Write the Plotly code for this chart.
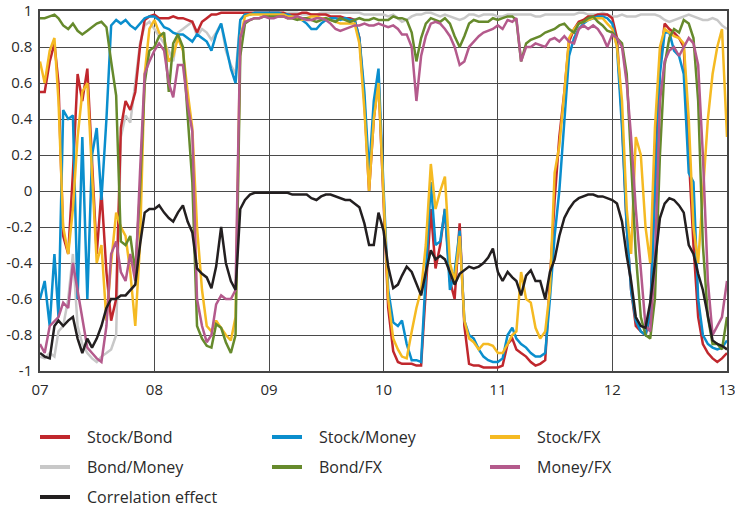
import datetime as dt
import plotly.graph_objects as go

# semi-monthly observation dates, 2007-01-01 .. 2013-01-01
dates = [dt.date(y, m, d) for y in range(2007, 2013) for m in range(1, 13) for d in (1, 16)]
dates.append(dt.date(2013, 1, 1))

stock_bond = [
    0.55, 0.55, 0.72, 0.82, 0.60, -0.25, -0.35, 0.10, 0.65, 0.50, 0.68, 0.20, -0.35, 0.00, -0.45, -0.72, -0.60, 0.35, 0.50, 0.45, 0.55, 0.80, 0.95, 0.97, 0.98,
    0.96, 0.96, 0.96, 0.97, 0.96, 0.96, 0.95, 0.94, 0.88, 0.94, 0.96, 0.98, 0.98, 0.99, 0.99, 0.99, 0.99, 0.99, 0.99, 0.99, 0.99, 0.99, 0.99, 0.99,
    0.99, 0.99, 0.99, 0.98, 0.98, 0.98, 0.99, 0.99, 0.98, 0.98, 0.98, 0.98, 0.97, 0.97, 0.97, 0.96, 0.96, 0.95, 0.85, 0.50, 0.00, 0.40, 0.62, -0.05,
    -0.65, -0.89, -0.95, -0.96, -0.96, -0.96, -0.97, -0.97, -0.55, -0.10, -0.43, -0.30, -0.10, -0.50, -0.60, -0.18, -0.75, -0.96, -0.97, -0.97, -0.98, -0.98, -0.98, -0.98,
    -0.97, -0.85, -0.82, -0.88, -0.90, -0.92, -0.95, -0.97, -0.96, -0.94, -0.50, -0.05, 0.30, 0.55, 0.83, 0.90, 0.94, 0.95, 0.97, 0.97, 0.98, 0.98, 0.98, 0.96,
    0.85, 0.40, -0.20, -0.55, -0.75, -0.78, -0.80, -0.70, 0.10, 0.70, 0.93, 0.90, 0.88, 0.85, 0.80, 0.20, -0.30, -0.70, -0.85, -0.90, -0.93, -0.95, -0.93, -0.90,
]

stock_money = [
    -0.60, -0.50, -0.75, -0.35, -0.70, 0.45, 0.40, 0.42, -0.60, 0.30, -0.60, 0.20, 0.35, -0.05, 0.40, 0.92, 0.95, 0.93, 0.95, 0.92, 0.90, 0.93, 0.96, 0.97, 0.97,
    0.95, 0.91, 0.90, 0.88, 0.87, 0.87, 0.85, 0.83, 0.87, 0.85, 0.83, 0.78, 0.87, 0.93, 0.80, 0.68, 0.60, 0.95, 0.98, 0.98, 0.99, 0.99, 0.99, 0.99,
    0.99, 0.99, 0.98, 0.98, 0.97, 0.96, 0.95, 0.93, 0.90, 0.90, 0.93, 0.95, 0.96, 0.96, 0.95, 0.96, 0.95, 0.95, 0.85, 0.55, 0.10, 0.50, 0.68, 0.02,
    -0.55, -0.73, -0.75, -0.72, -0.85, -0.94, -0.94, -0.95, -0.45, 0.05, -0.30, -0.28, -0.10, -0.55, -0.45, -0.22, -0.72, -0.80, -0.82, -0.88, -0.92, -0.94, -0.95, -0.95,
    -0.93, -0.80, -0.76, -0.82, -0.85, -0.87, -0.90, -0.92, -0.92, -0.90, -0.60, -0.25, 0.00, 0.40, 0.75, 0.85, 0.90, 0.93, 0.95, 0.96, 0.97, 0.97, 0.96, 0.93,
    0.80, 0.35, -0.20, -0.55, -0.72, -0.78, -0.80, -0.68, 0.00, 0.65, 0.88, 0.88, 0.78, 0.75, 0.65, 0.10, 0.05, -0.60, -0.80, -0.85, -0.87, -0.88, -0.87, -0.83,
]

stock_fx = [
    0.72, 0.60, 0.78, 0.85, 0.50, -0.20, -0.35, -0.10, 0.30, 0.55, 0.60, 0.10, -0.40, -0.30, -0.72, -0.40, -0.12, -0.20, -0.25, -0.45, -0.75, -0.30, 0.65, 0.90, 0.95,
    0.88, 0.85, 0.72, 0.75, 0.85, 0.78, 0.55, 0.35, -0.20, -0.55, -0.75, -0.78, -0.72, -0.76, -0.80, -0.83, -0.70, 0.85, 0.97, 0.98, 0.98, 0.98, 0.98, 0.98,
    0.98, 0.98, 0.98, 0.97, 0.97, 0.96, 0.95, 0.96, 0.97, 0.97, 0.96, 0.96, 0.95, 0.94, 0.93, 0.93, 0.93, 0.93, 0.82, 0.45, 0.00, 0.40, 0.60, -0.02,
    -0.60, -0.82, -0.88, -0.92, -0.93, -0.78, -0.65, -0.55, -0.30, 0.15, -0.10, 0.00, 0.08, -0.40, -0.50, -0.25, -0.72, -0.82, -0.84, -0.88, -0.85, -0.85, -0.86, -0.90,
    -0.90, -0.85, -0.80, -0.78, -0.45, -0.60, -0.62, -0.76, -0.82, -0.78, -0.55, 0.10, 0.25, 0.55, 0.85, 0.90, 0.93, 0.94, 0.95, 0.96, 0.96, 0.96, 0.93, 0.90,
    0.80, 0.50, -0.10, -0.35, 0.30, 0.20, -0.20, -0.40, 0.35, 0.80, 0.90, 0.88, 0.86, 0.85, 0.82, 0.40, -0.20, -0.40, 0.00, 0.40, 0.65, 0.80, 0.90, 0.30,
]

bond_money = [
    -0.92, -0.93, -0.90, -0.92, -0.78, -0.75, -0.60, -0.35, -0.75, -0.85, -0.90, -0.93, -0.95, -0.92, -0.90, -0.88, -0.80, 0.30, 0.42, 0.38, 0.60, 0.82, 0.92, 0.94, 0.90,
    0.86, 0.82, 0.78, 0.72, 0.88, 0.90, 0.92, 0.94, 0.86, 0.90, 0.88, 0.84, 0.88, 0.93, 0.78, 0.70, 0.65, 0.95, 0.98, 0.98, 0.99, 0.99, 0.99, 0.99,
    0.99, 0.99, 0.99, 0.99, 0.99, 0.99, 0.98, 0.98, 0.98, 0.98, 0.99, 0.99, 0.99, 0.99, 0.99, 0.99, 0.99, 0.99, 0.99, 0.98, 0.98, 0.98, 0.98, 0.98,
    0.97, 0.98, 0.96, 0.94, 0.95, 0.97, 0.98, 0.98, 0.99, 0.99, 0.98, 0.97, 0.98, 0.97, 0.96, 0.95, 0.96, 0.98, 0.98, 0.97, 0.98, 0.98, 0.98, 0.97,
    0.97, 0.98, 0.98, 0.98, 0.98, 0.98, 0.98, 0.97, 0.97, 0.98, 0.98, 0.98, 0.98, 0.98, 0.98, 0.98, 0.99, 0.99, 0.98, 0.98, 0.98, 0.99, 0.98, 0.97,
    0.97, 0.98, 0.97, 0.97, 0.97, 0.98, 0.98, 0.98, 0.98, 0.97, 0.95, 0.94, 0.95, 0.96, 0.97, 0.98, 0.97, 0.96, 0.95, 0.95, 0.96, 0.95, 0.92, 0.90,
]

bond_fx = [
    0.96, 0.96, 0.97, 0.98, 0.96, 0.92, 0.90, 0.93, 0.89, 0.87, 0.89, 0.91, 0.93, 0.94, 0.91, 0.72, 0.53, -0.28, -0.30, -0.25, -0.45, 0.00, 0.60, 0.78, 0.80,
    0.86, 0.88, 0.55, 0.82, 0.87, 0.80, 0.42, 0.05, -0.75, -0.82, -0.86, -0.87, -0.74, -0.76, -0.84, -0.90, -0.80, 0.75, 0.93, 0.95, 0.96, 0.96, 0.97, 0.97,
    0.97, 0.97, 0.97, 0.96, 0.96, 0.95, 0.96, 0.96, 0.95, 0.94, 0.95, 0.96, 0.95, 0.94, 0.96, 0.95, 0.94, 0.95, 0.96, 0.95, 0.95, 0.96, 0.95, 0.95,
    0.95, 0.97, 0.96, 0.96, 0.95, 0.88, 0.72, 0.85, 0.93, 0.96, 0.95, 0.94, 0.96, 0.93, 0.86, 0.80, 0.86, 0.93, 0.95, 0.94, 0.94, 0.94, 0.96, 0.95,
    0.96, 0.97, 0.97, 0.95, 0.72, 0.82, 0.84, 0.85, 0.86, 0.88, 0.89, 0.90, 0.92, 0.93, 0.90, 0.88, 0.93, 0.94, 0.96, 0.97, 0.94, 0.92, 0.89, 0.88,
    0.85, 0.82, 0.65, 0.20, -0.35, -0.70, -0.80, -0.82, -0.60, 0.20, 0.70, 0.85, 0.90, 0.88, 0.95, 0.93, 0.85, 0.50, -0.30, -0.70, -0.85, -0.85, -0.88, -0.70,
]

money_fx = [
    -0.85, -0.90, -0.75, -0.72, -0.70, -0.62, -0.65, -0.40, -0.55, -0.70, -0.87, -0.90, -0.93, -0.95, -0.75, -0.35, -0.28, -0.45, -0.50, -0.35, -0.50, 0.10, 0.65, 0.72, 0.78,
    0.82, 0.78, 0.60, 0.52, 0.70, 0.70, 0.48, 0.33, -0.60, -0.75, -0.84, -0.80, -0.63, -0.58, -0.60, -0.60, -0.55, 0.85, 0.94, 0.95, 0.96, 0.96, 0.97, 0.96,
    0.96, 0.97, 0.97, 0.96, 0.96, 0.97, 0.96, 0.95, 0.95, 0.96, 0.96, 0.95, 0.93, 0.90, 0.89, 0.90, 0.91, 0.92, 0.92, 0.93, 0.92, 0.92, 0.93, 0.92,
    0.91, 0.92, 0.90, 0.87, 0.87, 0.80, 0.50, 0.75, 0.86, 0.93, 0.94, 0.93, 0.90, 0.86, 0.80, 0.70, 0.72, 0.80, 0.83, 0.86, 0.88, 0.89, 0.90, 0.92,
    0.90, 0.95, 0.94, 0.96, 0.72, 0.80, 0.80, 0.82, 0.81, 0.80, 0.84, 0.85, 0.83, 0.86, 0.83, 0.82, 0.90, 0.92, 0.90, 0.92, 0.90, 0.86, 0.80, 0.87,
    0.85, 0.80, 0.60, 0.30, -0.10, -0.45, -0.75, -0.78, -0.40, 0.50, 0.72, 0.78, 0.80, 0.75, 0.80, 0.85, 0.82, 0.70, 0.20, -0.50, -0.80, -0.75, -0.70, -0.50,
]

corr_effect = [
    -0.90, -0.92, -0.93, -0.75, -0.72, -0.75, -0.72, -0.70, -0.82, -0.90, -0.82, -0.87, -0.82, -0.75, -0.65, -0.60, -0.60, -0.58, -0.58, -0.55, -0.52, -0.30, -0.12, -0.10, -0.10,
    -0.08, -0.12, -0.15, -0.17, -0.12, -0.08, -0.17, -0.23, -0.43, -0.46, -0.48, -0.54, -0.42, -0.20, -0.40, -0.50, -0.55, -0.10, -0.05, -0.02, -0.01, -0.01, -0.01, -0.01,
    -0.01, -0.01, -0.01, -0.01, -0.02, -0.02, -0.02, -0.02, -0.04, -0.05, -0.03, -0.02, -0.02, -0.03, -0.04, -0.05, -0.05, -0.07, -0.09, -0.18, -0.30, -0.30, -0.12, -0.22,
    -0.42, -0.54, -0.52, -0.47, -0.42, -0.45, -0.52, -0.58, -0.45, -0.33, -0.38, -0.36, -0.38, -0.45, -0.52, -0.46, -0.44, -0.42, -0.43, -0.42, -0.40, -0.37, -0.32, -0.45,
    -0.50, -0.45, -0.48, -0.50, -0.58, -0.47, -0.44, -0.50, -0.50, -0.60, -0.45, -0.38, -0.25, -0.15, -0.10, -0.06, -0.04, -0.03, -0.02, -0.02, -0.03, -0.03, -0.04, -0.05,
    -0.07, -0.17, -0.36, -0.50, -0.70, -0.75, -0.76, -0.62, -0.40, -0.15, -0.07, -0.04, -0.05, -0.08, -0.12, -0.30, -0.35, -0.46, -0.55, -0.70, -0.83, -0.85, -0.86, -0.88,
]

x_tick_dates = ["2007-01-01", "2008-01-01", "2009-01-01", "2010-01-01", "2011-01-01", "2012-01-01", "2013-01-01"]
x_tick_labels = ["07", "08", "09", "10", "11", "12", "13"]
y_tick_vals = [-1, -0.8, -0.6, -0.4, -0.2, 0, 0.2, 0.4, 0.6, 0.8, 1]
y_tick_labels = ["-1", "-0.8", "-0.6", "-0.4", "-0.2", "0", "0.2", "0.4", "0.6", "0.8", "1"]

series = [
    ("Bond/Money", bond_money, "#C8C8C8"),
    ("Stock/Bond", stock_bond, "#C0272D"),
    ("Stock/Money", stock_money, "#0A8ECD"),
    ("Stock/FX", stock_fx, "#F5BA22"),
    ("Bond/FX", bond_fx, "#668A2C"),
    ("Money/FX", money_fx, "#B45A8C"),
    ("Correlation effect", corr_effect, "#231F20"),
]

FONT = "Open Sans"
fig = go.Figure()
for name, vals, col in series:
    fig.add_trace(go.Scatter(x=dates, y=vals, name=name, mode="lines",
                             line=dict(color=col, width=2.5), showlegend=False))

W, H = 735, 508
L, R, T, B = 40, 8, 11, 137
pw, ph = W - L - R, H - T - B

# legend (drawn manually: 3 columns); positions in pixels
legend_layout = [
    ("Stock/Bond", "#C0272D", 0, 0), ("Stock/Money", "#0A8ECD", 1, 0), ("Stock/FX", "#F5BA22", 2, 0),
    ("Bond/Money", "#C8C8C8", 0, 1), ("Bond/FX", "#668A2C", 1, 1), ("Money/FX", "#B45A8C", 2, 1),
    ("Correlation effect", "#231F20", 0, 2),
]
col_px = [40, 272, 490]
row_px = [437, 467, 497]
shapes, annots = [], []
for name, col, c, r in legend_layout:
    x0 = (col_px[c] - L) / pw
    x1 = (col_px[c] + 30 - L) / pw
    xt = (col_px[c] + 45 - L) / pw
    yy = (H - B - row_px[r]) / ph
    shapes.append(dict(type="line", xref="paper", yref="paper", x0=x0, x1=x1, y0=yy, y1=yy,
                       line=dict(color=col, width=4)))
    annots.append(dict(text=name, xref="paper", yref="paper", x=xt, y=yy, xanchor="left",
                       yanchor="middle", showarrow=False, font=dict(family=FONT, size=16, color="#2a2a2a")))

fig.update_layout(
    template="none",
    width=W, height=H, margin=dict(l=L, r=R, t=T, b=B, autoexpand=False),
    paper_bgcolor="white", plot_bgcolor="white",
    font=dict(family=FONT, size=15, color="#2a2a2a"),
    shapes=shapes, annotations=annots, showlegend=False, hovermode=False,
)
fig.update_xaxes(type="date", range=["2007-01-01", "2013-01-01"], tickvals=x_tick_dates, ticktext=x_tick_labels,
                 automargin=False, showgrid=True, gridcolor="#4a4a4a", gridwidth=1, showline=True, linecolor="#444",
                 linewidth=1.5, mirror=True, ticks="", ticklabelstandoff=4, ticklabeloverflow="allow",
                 tickfont=dict(size=15))
fig.update_yaxes(range=[-1, 1], tickvals=y_tick_vals, ticktext=y_tick_labels, automargin=False, showgrid=True,
                 gridcolor="#4a4a4a", gridwidth=1, zeroline=False, showline=True, linecolor="#444", linewidth=1.5,
                 mirror=True, ticks="", ticklabelstandoff=3, ticklabeloverflow="allow", tickfont=dict(size=15))

fig.write_html("out.html", config={"displayModeBar": False},
               post_script="document.body.style.margin='0';")
